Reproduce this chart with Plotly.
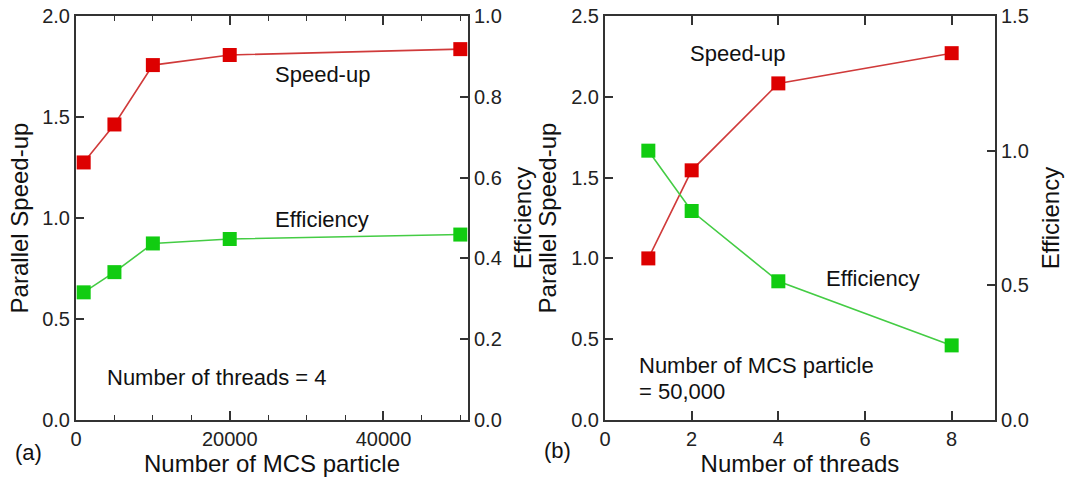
import plotly.graph_objects as go

# ---- data ----
particles = [1000, 5000, 10000, 20000, 50000]
speedup_a = [1.275, 1.463, 1.757, 1.807, 1.836]
eff_a = [0.316, 0.366, 0.437, 0.448, 0.459]

threads = [1, 2, 4, 8]
speedup_b = [1.0, 1.545, 2.083, 2.27]
eff_b = [1.0, 0.776, 0.515, 0.277]

xa_ticks = [0, 20000, 40000]
xb_ticks = [0, 2, 4, 6, 8]
ya_left_ticks = [0.0, 0.5, 1.0, 1.5, 2.0]
ya_right_ticks = [0.0, 0.2, 0.4, 0.6, 0.8, 1.0]
yb_left_ticks = [0.0, 0.5, 1.0, 1.5, 2.0, 2.5]
yb_right_ticks = [0.0, 0.5, 1.0, 1.5]

W, H = 1070, 479
FONT = "Liberation Sans, Arial, Helvetica, sans-serif"
RED_M, RED_L = "#dd0000", "#d03a3a"
GRN_M, GRN_L = "#11cc11", "#44cc44"
AX = "#333333"
TICKC = "#222222"


def px(x):
    return x / W


def py(y):
    return 1 - y / H


fig = go.Figure()

mk = dict(symbol="square", size=14)
fig.add_trace(go.Scatter(x=particles, y=speedup_a, mode="lines+markers",
                         line=dict(color=RED_L, width=1.6),
                         marker=dict(color=RED_M, **mk),
                         xaxis="x", yaxis="y", showlegend=False))
fig.add_trace(go.Scatter(x=particles, y=eff_a, mode="lines+markers",
                         line=dict(color=GRN_L, width=1.6),
                         marker=dict(color=GRN_M, **mk),
                         xaxis="x", yaxis="y2", showlegend=False))
fig.add_trace(go.Scatter(x=threads, y=speedup_b, mode="lines+markers",
                         line=dict(color=RED_L, width=1.6),
                         marker=dict(color=RED_M, **mk),
                         xaxis="x2", yaxis="y3", showlegend=False))
fig.add_trace(go.Scatter(x=threads, y=eff_b, mode="lines+markers",
                         line=dict(color=GRN_L, width=1.6),
                         marker=dict(color=GRN_M, **mk),
                         xaxis="x2", yaxis="y4", showlegend=False))

dom_a = [px(76), px(468)]
dom_b = [px(605), px(995)]
dom_y = [py(420), py(16)]

tickfont = dict(family=FONT, size=20, color=TICKC)
titlefont = dict(family=FONT, size=24, color="#111111")

common_x = dict(showline=True, linecolor=AX, linewidth=2, mirror="ticks",
                ticks="inside", ticklen=9, tickwidth=1.5, tickcolor=AX,
                showgrid=False, zeroline=False, tickfont=tickfont,
                automargin=False)
common_y = dict(showline=True, linecolor=AX, linewidth=2,
                ticks="inside", ticklen=8, tickwidth=1.5, tickcolor=AX,
                showgrid=False, zeroline=False, tickfont=tickfont,
                automargin=False)

fig.update_layout(
    width=W, height=H,
    margin=dict(l=0, r=0, t=0, b=0, autoexpand=False),
    paper_bgcolor="white", plot_bgcolor="white",
    font=dict(family=FONT, color="#111111"),
    xaxis=dict(domain=dom_a, range=[0, 51000], anchor="y",
               tickvals=xa_ticks, ticktext=[str(v) for v in xa_ticks],
               minor=dict(dtick=5000, tick0=0, ticks="inside", ticklen=5,
                          tickwidth=1, tickcolor=AX),
               title=dict(text="Number of MCS particle", font=titlefont, standoff=2),
               **common_x),
    yaxis=dict(domain=dom_y, range=[0, 2.0], anchor="x",
               tickvals=ya_left_ticks, ticktext=[f"{v:.1f}" for v in ya_left_ticks],
               title=dict(text="Parallel Speed-up", font=titlefont, standoff=7),
               **common_y),
    yaxis2=dict(range=[0, 1.0], overlaying="y", side="right", anchor="x",
                tickvals=ya_right_ticks, ticktext=[f"{v:.1f}" for v in ya_right_ticks],
                title=dict(text="Efficiency", font=titlefont, standoff=13),
                **common_y),
    xaxis2=dict(domain=dom_b, range=[0, 9], anchor="y3",
                tickvals=xb_ticks, ticktext=[str(v) for v in xb_ticks],
                title=dict(text="Number of threads", font=titlefont, standoff=2),
                **common_x),
    yaxis3=dict(domain=dom_y, range=[0, 2.5], anchor="x2",
                tickvals=yb_left_ticks, ticktext=[f"{v:.1f}" for v in yb_left_ticks],
                title=dict(text="Parallel Speed-up", font=titlefont, standoff=8),
                **common_y),
    yaxis4=dict(range=[0, 1.5], overlaying="y3", side="right", anchor="x2",
                tickvals=yb_right_ticks, ticktext=[f"{v:.1f}" for v in yb_right_ticks],
                title=dict(text="Efficiency", font=titlefont, standoff=14),
                **common_y),
)

afont = dict(family=FONT, size=22, color="#111111")


def note(text, x, y, xanchor="left"):
    fig.add_annotation(text=text, x=px(x), y=py(y), xref="paper", yref="paper",
                       xanchor=xanchor, yanchor="middle", showarrow=False,
                       font=afont, align="left", borderpad=0)


note("Speed-up", 274, 74)
note("Efficiency", 274, 219)
note("Number of threads = 4", 106, 377)
note("(a)", 14, 452)
note("Speed-up", 689, 54)
note("Efficiency", 825, 278)
note("Number of MCS particle", 638, 365)
note("= 50,000", 638, 391)
note("(b)", 543, 450)

fig.write_html("out.html")
